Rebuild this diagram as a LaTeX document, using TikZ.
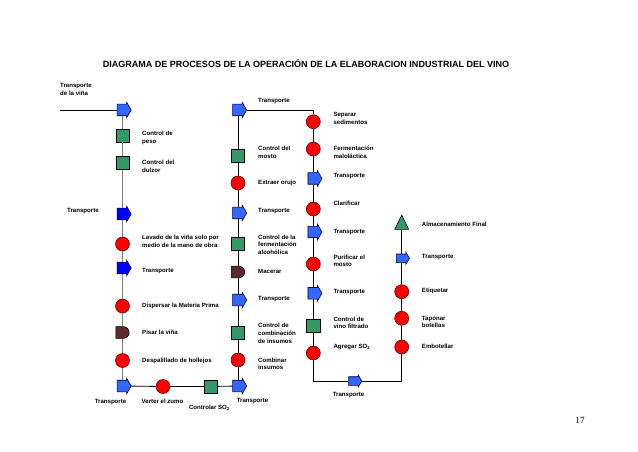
\documentclass[tikz,border=0pt]{standalone}
\usepackage{fontspec}
\setmainfont{Liberation Sans}
\newfontfamily\pagefont{Liberation Serif}
\usetikzlibrary{shapes.arrows,shapes.geometric,shapes.misc}
\definecolor{ArrowBlue}{HTML}{3366FF}
\definecolor{DeepBlue}{HTML}{0000FF}
\definecolor{OpRed}{HTML}{FF0000}
\definecolor{CtrlGreen}{HTML}{339966}
\definecolor{DelayBrown}{HTML}{5C2A2A}
\definecolor{LineGray}{HTML}{7F7F7F}

\begin{document}
\begin{tikzpicture}[
    x=0.03cm, y=-0.03cm,
    lbl/.style={font=\fontsize{5.2}{6.6}\selectfont\bfseries, anchor=west, align=left, inner sep=0pt},
    transp/.style={single arrow, draw=blue!25!black, fill=ArrowBlue, line width=0.5pt, inner xsep=0pt, inner ysep=0.165cm, minimum height=0.42cm, single arrow head extend=0.06cm, single arrow tip angle=120},
    transpsmall/.style={transp, inner ysep=0.12cm, minimum height=0.39cm, single arrow head extend=0.06cm},
    opcirc/.style={circle, draw=red!40!black, fill=OpRed, line width=0.5pt, inner sep=0pt, minimum size=0.42cm},
    ctrl/.style={rectangle, draw=black, fill=CtrlGreen, line width=0.5pt, inner sep=0pt, minimum size=0.4cm},
    delay/.style={rounded rectangle, rounded rectangle left arc=none, draw=black, fill=DelayBrown, line width=0.5pt, inner sep=0pt, minimum width=0.4cm, minimum height=0.35cm},
    store/.style={isosceles triangle, isosceles triangle stretches, shape border rotate=90, draw=black, fill=CtrlGreen, line width=0.5pt, inner sep=0pt, minimum width=0.42cm, minimum height=0.43cm},
    link/.style={line width=0.7pt, black},
    graylink/.style={line width=0.7pt, LineGray}
  ]
    \useasboundingbox (0,0) rectangle (638,452);

    \node[font=\fontsize{7.7}{9}\selectfont\bfseries] (titulo) at (306,63.3) {DIAGRAMA DE PROCESOS DE LA OPERACIÓN DE LA ELABORACION INDUSTRIAL DEL VINO};

    % primera columna
    \coordinate (inicio) at (60,110);
    \node[transp] (tA) at (122.5,110) {};
    \node[ctrl] (peso) at (122.5,135.5) {};
    \node[ctrl] (dulzor) at (122.5,163) {};
    \node[transp, fill=DeepBlue] (tB) at (122.5,214) {};
    \node[opcirc] (lavado) at (122.5,244) {};
    \node[transp, fill=DeepBlue] (tC) at (122.5,268) {};
    \node[opcirc] (dispersar) at (122.5,306) {};
    \node[delay] (pisar) at (122.5,332.5) {};
    \node[opcirc] (despal) at (122.5,360.5) {};
    \node[transp] (tD) at (122.5,386) {};

    % fila inferior
    \node[opcirc] (verter) at (163,386.5) {};
    \node[ctrl] (so2) at (211,386.5) {};

    % segunda columna
    \node[transp] (tE) at (238,386) {};
    \node[opcirc] (combinar) at (238,360) {};
    \node[ctrl] (combin) at (238,333) {};
    \node[transp] (tH) at (238,300) {};
    \node[delay] (macerar) at (238,272) {};
    \node[ctrl] (ferment) at (238,244) {};
    \node[transp] (tG) at (238,213) {};
    \node[opcirc] (orujo) at (238,183) {};
    \node[ctrl] (mosto) at (238,155.5) {};
    \node[transp] (tF) at (238,110) {};

    % tercera columna
    \node[opcirc] (separar) at (313.3,121.7) {};
    \node[opcirc] (malo) at (313.3,149) {};
    \node[transp] (tI) at (313.3,178.5) {};
    \node[opcirc] (clarif) at (313.3,209) {};
    \node[transp] (tJ) at (313.3,232) {};
    \node[opcirc] (purif) at (313.3,264) {};
    \node[transp] (tK) at (313.3,293.3) {};
    \node[ctrl] (filtrado) at (313.3,326) {};
    \node[opcirc] (agregar) at (313.3,353) {};
    \node[transpsmall] (tL) at (354,381) {};

    % cuarta columna
    \node[opcirc] (embot) at (401.7,347) {};
    \node[opcirc] (tapon) at (401.7,318.3) {};
    \node[opcirc] (etiq) at (401.7,291.7) {};
    \node[transpsmall] (tM) at (401.7,258.3) {};
    \node[store] (almac) at (401.7,225) {};

    \draw[link] (inicio) -- (tA);
    \draw[graylink] (tA) -- (peso) -- (dulzor) -- (tB) -- (lavado) -- (tC) -- (dispersar) -- (pisar) -- (despal) -- (tD);
    \draw[link] (tD) -- (verter) -- (so2) -- (tE);
    \draw[link] (tE) -- (combinar) -- (combin) -- (tH) -- (macerar) -- (ferment) -- (tG) -- (orujo) -- (mosto) -- (tF);
    \draw[link] (tF) -| (separar);
    \draw[link] (separar) -- (malo) -- (tI) -- (clarif) -- (tJ) -- (purif) -- (tK) -- (filtrado) -- (agregar);
    \draw[link] (agregar) |- (tL);
    \draw[link] (tL) -| (embot);
    \draw[link] (embot) -- (tapon) -- (etiq) -- (tM) -- (almac);

    % textos
    \node[lbl] (lInicio) at (60,89.5) {Transporte\\de la viña};
    \node[lbl] (lPeso) at (142,138) {Control de\\peso};
    \node[lbl] (lDulzor) at (142,166) {Control del\\dulzor};
    \node[lbl] (lTB) at (67,211) {Transporte};
    \node[lbl] (lLavado) at (142,241) {Lavado de la viña solo por\\medio de la mano de obra};
    \node[lbl] (lTC) at (142,271.5) {Transporte};
    \node[lbl] (lDispersar) at (142,306) {Dispersar la Materia Prima};
    \node[lbl] (lPisar) at (142,332.7) {Pisar la viña};
    \node[lbl] (lDespal) at (142,360.7) {Despalillado de hollejos};
    \node[lbl, anchor=center] (lTD) at (110.5,401.7) {Transporte};
    \node[lbl, anchor=center] (lVerter) at (162.5,401.7) {Verter el zumo};
    \node[lbl, anchor=center] (lSO2) at (209.5,407.7) {Controlar SO\textsubscript{2}};
    \node[lbl, anchor=center] (lTE) at (252.5,400.7) {Transporte};

    \node[lbl] (lTF) at (258,100.7) {Transporte};
    \node[lbl] (lMosto) at (258,152.5) {Control del\\mosto};
    \node[lbl] (lOrujo) at (258,183.3) {Extraer orujo};
    \node[lbl] (lTG) at (258,210.7) {Transporte};
    \node[lbl] (lFerment) at (258,244.6) {Control de la\\fermentación\\alcohólica};
    \node[lbl] (lMacerar) at (258,271) {Macerar};
    \node[lbl] (lTH) at (258,299) {Transporte};
    \node[lbl] (lCombin) at (258,333.2) {Control de\\combinación\\de insumos};
    \node[lbl] (lCombinar) at (258,363.8) {Combinar\\insumos};

    \node[lbl] (lSeparar) at (333.3,118.7) {Separar\\sedimentos};
    \node[lbl] (lMalo) at (333.3,152) {Fermentación\\maloláctica};
    \node[lbl] (lTI) at (333.3,175.7) {Transporte};
    \node[lbl] (lClarif) at (333.3,203.3) {Clarificar};
    \node[lbl] (lTJ) at (333.3,231.7) {Transporte};
    \node[lbl] (lPurif) at (333.3,260.8) {Purificar el\\mosto};
    \node[lbl] (lTK) at (333.3,291.7) {Transporte};
    \node[lbl] (lFiltrado) at (333.3,322.8) {Control de\\vino filtrado};
    \node[lbl] (lAgregar) at (333.3,346.7) {Agregar SO\textsubscript{2}};
    \node[lbl, anchor=center] (lTL) at (348.5,395) {Transporte};

    \node[lbl] (lAlmac) at (421.7,224) {Almacenamiento Final};
    \node[lbl] (lTM) at (421.7,257.3) {Transporte};
    \node[lbl] (lEtiq) at (421.7,290.7) {Etiquetar};
    \node[lbl] (lTapon) at (421.7,322) {Taponar\\botellas};
    \node[lbl] (lEmbot) at (421.7,346.7) {Embotellar};

    \node[font=\pagefont\fontsize{8}{9}\selectfont] (pagina) at (580,420.7) {17};
  \end{tikzpicture}
\end{document}
